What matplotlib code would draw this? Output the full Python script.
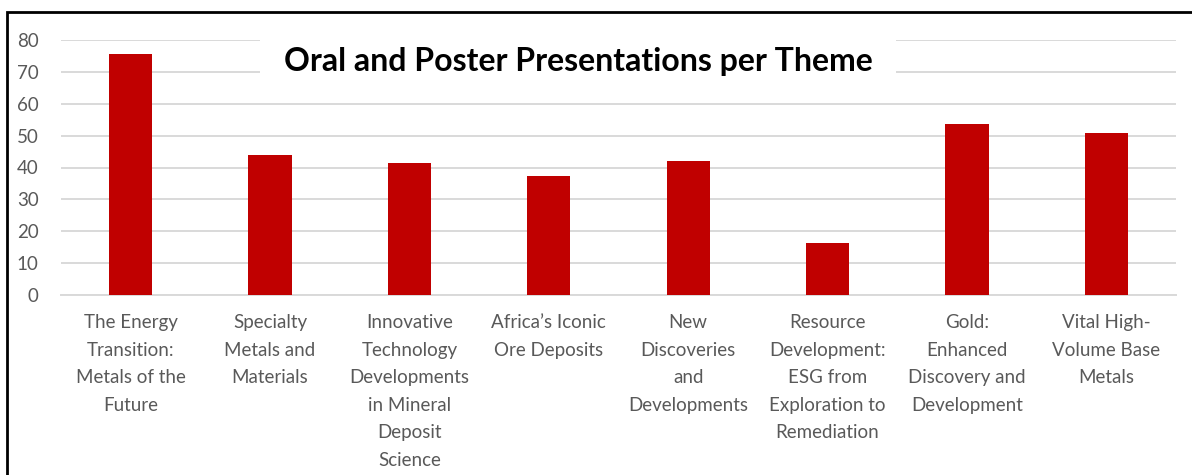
import matplotlib.pyplot as plt
from matplotlib.patches import Rectangle

# Datos del gráfico
temas = [
    "The Energy\nTransition:\nMetals of the\nFuture",
    "Specialty\nMetals and\nMaterials",
    "Innovative\nTechnology\nDevelopments\nin Mineral\nDeposit\nScience",
    "Africa\u2019s Iconic\nOre Deposits",
    "New\nDiscoveries\nand\nDevelopments",
    "Resource\nDevelopment:\nESG from\nExploration to\nRemediation",
    "Gold:\nEnhanced\nDiscovery and\nDevelopment",
    "Vital High-\nVolume Base\nMetals",
]
presentaciones = [75.5, 44, 41.4, 37.2, 42, 16.3, 53.7, 50.8]
ticks_y = [0, 10, 20, 30, 40, 50, 60, 70, 80]

plt.rcParams['font.family'] = ['Lato', 'DejaVu Sans']

fig = plt.figure(figsize=(11.92, 4.75), dpi=100)
ax = fig.add_axes([61 / 1192, 1 - 295 / 475, (1176 - 61) / 1192, (295 - 40) / 475])

x = list(range(len(temas)))
ax.bar(x, presentaciones, width=0.31, color='#c00000', zorder=3)

ax.set_ylim(0, 80)
ax.set_xlim(-0.5, len(temas) - 0.5)
ax.set_yticks(ticks_y)
ax.set_xticks(x)
ax.set_xticklabels(temas, linespacing=1.75)
ax.tick_params(axis='both', length=0, labelsize=13.5, labelcolor='#595959')
ax.tick_params(axis='y', pad=16)
ax.tick_params(axis='x', pad=14)

ax.grid(axis='y', color='#d9d9d9', linewidth=1.4, zorder=0)
for lado in ['top', 'right', 'left']:
    ax.spines[lado].set_visible(False)
ax.spines['bottom'].set_color('#d9d9d9')
ax.spines['bottom'].set_linewidth(1.4)

# Título con fondo blanco sobre la cuadrícula
fig.text(578 / 1192, 1 - 61 / 475, "Oral and Poster Presentations per Theme",
         ha='center', va='center', fontsize=23, fontweight='bold', color='black',
         bbox=dict(facecolor='white', edgecolor='none', pad=17), zorder=5)

# Marco negro del gráfico
fig.patches.append(Rectangle((7 / 1192, -0.1), 1.2, 1 - 12 / 475 + 0.1,
                             transform=fig.transFigure, fill=False,
                             edgecolor='black', linewidth=2))

fig.savefig('out.png', dpi=100)
